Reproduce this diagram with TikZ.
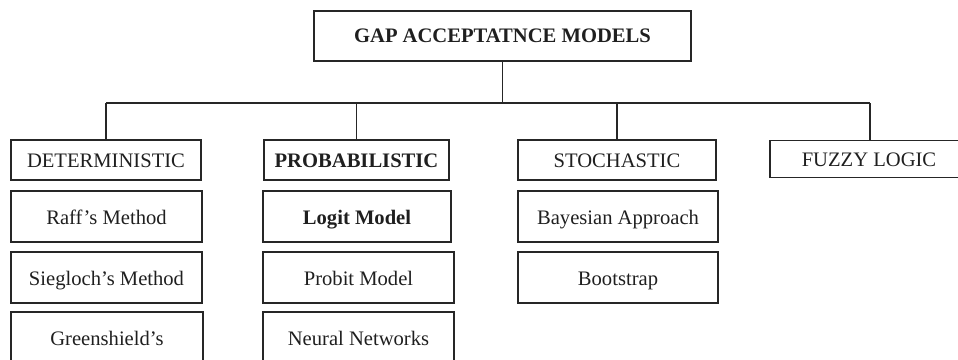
\documentclass[tikz,border=0pt]{standalone}
\usepackage{fontspec}
\setmainfont{Liberation Serif}
\newcommand{\boxfont}{\fontsize{20.6}{24}\selectfont}
\begin{document}
\begin{tikzpicture}[x=1pt,y=-1pt,
  box/.style={draw=black!85, line width=1.5pt, inner sep=0pt, text=black!88,
    text height=15.5pt, text depth=0.5pt,
    font=\boxfont},
  catbox/.style={box, minimum height=40pt, text height=15pt, text depth=1pt},
  leaf/.style={box, minimum height=51pt},
  conn/.style={draw=black!85, line width=1.4pt}]
\useasboundingbox (0,0) rectangle (958,359);
\clip (0,0) rectangle (958,359);
\node[box, minimum width=377pt, minimum height=50pt, text height=14pt, text depth=2pt, font=\boxfont\bfseries] (root) at (502.5,36) {GAP ACCEPTATNCE MODELS};
% categories
\node[catbox, minimum width=190pt] (det) at (106,160) {DETERMINISTIC};
\node[catbox, minimum width=185pt, font=\boxfont\bfseries] (prob) at (356.5,160) {PROBABILISTIC};
\node[catbox, minimum width=198pt] (sto) at (617,160) {STOCHASTIC};
\node[catbox, minimum width=198pt, minimum height=37pt] (fuz) at (869,159) {FUZZY LOGIC};
% row 2
\node[leaf, minimum width=191pt] (raff) at (106.5,216.5) {Raff’s Method};
\node[leaf, minimum width=188pt, font=\boxfont\bfseries] (logit) at (357,216.5) {Logit Model};
\node[leaf, minimum width=200pt] (bayes) at (618,216.5) {Bayesian Approach};
% row 3
\node[leaf, minimum width=191pt] (sieg) at (106.5,277.5) {Siegloch’s Method};
\node[leaf, minimum width=191pt] (probit) at (358.5,277.5) {Probit Model};
\node[leaf, minimum width=200pt] (boot) at (618,277.5) {Bootstrap};
% row 4
\node[leaf, minimum width=192pt] (green) at (107,337.5) {Greenshield’s};
\node[leaf, minimum width=191pt] (neural) at (358.5,337.5) {Neural Networks};
% connectors
\coordinate (barL) at (106,103);
\coordinate (barR) at (870,103);
\coordinate (fz) at (870,103);
\draw[conn] (root.south) -- (root.south |- barL);
\draw[conn] (barL) -- (barR);
\draw[conn] (det.north |- barL) -- (det.north);
\draw[conn] (prob.north |- barL) -- (prob.north);
\draw[conn] (sto.north |- barL) -- (sto.north);
\draw[conn] (fz) -- (fz |- fuz.north);
\end{tikzpicture}
\end{document}
